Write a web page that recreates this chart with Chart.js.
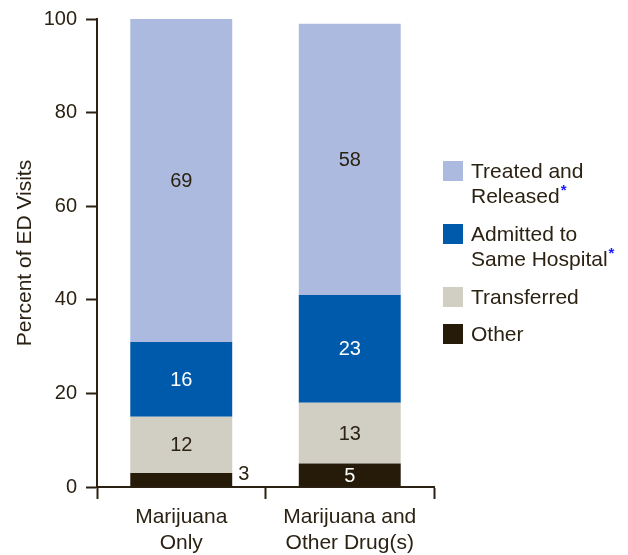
<!DOCTYPE html>
<html>
<head>
<meta charset="utf-8">
<script src="https://cdn.jsdelivr.net/npm/chart.js@4/dist/chart.umd.min.js"></script>
<style>
  html, body { margin: 0; padding: 0; background: #fff; }
  #wrap { width: 628px; height: 555px; }
</style>
</head>
<body>
<div id="wrap"><canvas id="edChart" width="628" height="555"></canvas></div>
<script>
// categories and values, bottom segment first
const categories = [["Marijuana", "Only"], ["Marijuana and", "Other Drug(s)"]];
const otherVals = [3, 5];
const transferredVals = [12, 13];
const admittedVals = [16, 23];
const treatedVals = [69, 58];
const yTicks = [0, 20, 40, 60, 80, 100];

const seriesNames = ["Other", "Transferred", "Admitted to Same Hospital", "Treated and Released"];
const legendLines = [["Other"], ["Transferred"], ["Admitted to", "Same Hospital"], ["Treated and", "Released"]];
const starred = [false, false, true, true];

const ink = "#2b2213";
const colors = ["#261b09", "#d1cec3", "#005aab", "#abbade"];
const labelColors = ["#ffffff", ink, "#ffffff", ink];
const fontFamily = "'Liberation Sans', Arial, Helvetica, sans-serif";

// numbers inside each segment (outside to the right when the segment is too thin)
const valueLabels = {
  id: "valueLabels",
  afterDatasetsDraw(chart) {
    const ctx = chart.ctx;
    ctx.save();
    ctx.font = "20px " + fontFamily;
    ctx.textBaseline = "middle";
    chart.data.datasets.forEach((ds, i) => {
      const meta = chart.getDatasetMeta(i);
      meta.data.forEach((bar, j) => {
        const v = ds.data[j];
        const h = Math.abs(bar.base - bar.y);
        const cy = (bar.y + bar.base) / 2;
        if (h < 16) {
          ctx.fillStyle = ink;
          ctx.textAlign = "left";
          ctx.fillText(String(v), bar.x + bar.width / 2 + 6, cy - 5);
        } else {
          ctx.fillStyle = labelColors[i];
          ctx.textAlign = "center";
          ctx.fillText(String(v), bar.x, cy + 1);
        }
      });
    });
    ctx.restore();
  }
};

// legend on the right, top series first, with two-line entries
const sideLegend = {
  id: "sideLegend",
  afterDraw(chart) {
    const ctx = chart.ctx;
    const x0 = 443, box = 20, textX = 471, lineH = 25;
    let y = 161;
    ctx.save();
    ctx.textBaseline = "middle";
    for (let i = chart.data.datasets.length - 1; i >= 0; i--) {
      ctx.fillStyle = chart.data.datasets[i].backgroundColor;
      ctx.fillRect(x0, y, box, box);
      const lines = legendLines[i];
      ctx.font = "21px " + fontFamily;
      ctx.fillStyle = ink;
      ctx.textAlign = "left";
      lines.forEach((ln, k) => {
        ctx.fillText(ln, textX, y + box / 2 + 1 + k * lineH);
      });
      if (starred[i]) {
        const last = lines[lines.length - 1];
        const w = ctx.measureText(last).width;
        ctx.font = "bold 15px " + fontFamily;
        ctx.fillStyle = "#1a1aff";
        ctx.fillText("*", textX + w + 1, y + box / 2 + (lines.length - 1) * lineH - 5);
      }
      y += lines.length * 26 + 11;
    }
    ctx.restore();
  }
};

const datasetValues = [otherVals, transferredVals, admittedVals, treatedVals];

new Chart(document.getElementById("edChart"), {
  type: "bar",
  data: {
    labels: categories,
    datasets: datasetValues.map((vals, i) => ({
      label: seriesNames[i],
      data: vals,
      backgroundColor: colors[i],
      borderWidth: 0,
      categoryPercentage: 1.0,
      barPercentage: 0.605
    }))
  },
  options: {
    responsive: false,
    animation: false,
    layout: { padding: { top: 19, right: 194, left: 0, bottom: 0 } },
    plugins: {
      legend: { display: false },
      tooltip: { enabled: false }
    },
    scales: {
      x: {
        stacked: true,
        afterFit(scale) { scale.height = 68; },
        grid: {
          display: true,
          drawOnChartArea: false,
          offset: true,
          tickLength: 12,
          tickColor: ink,
          tickWidth: 2
        },
        border: { display: true, color: ink, width: 2 },
        ticks: {
          color: ink,
          padding: 6,
          maxRotation: 0,
          font: { family: fontFamily, size: 21, lineHeight: 1.2 }
        }
      },
      y: {
        stacked: true,
        min: 0,
        max: 100,
        afterFit(scale) {
          scale.width = 97;
          scale.paddingTop = 0;
          scale.paddingBottom = 0;
        },
        afterBuildTicks(scale) { scale.ticks = yTicks.map(v => ({ value: v })); },
        grid: {
          display: true,
          drawOnChartArea: false,
          tickLength: 11,
          tickColor: ink,
          tickWidth: 2
        },
        border: { display: true, color: ink, width: 2 },
        ticks: {
          color: ink,
          padding: 9,
          font: { family: fontFamily, size: 20 }
        },
        title: {
          display: true,
          text: "Percent of ED Visits",
          color: ink,
          padding: { top: 13, bottom: 0 },
          font: { family: fontFamily, size: 21 }
        }
      }
    }
  },
  plugins: [valueLabels, sideLegend]
});
</script>
</body>
</html>
